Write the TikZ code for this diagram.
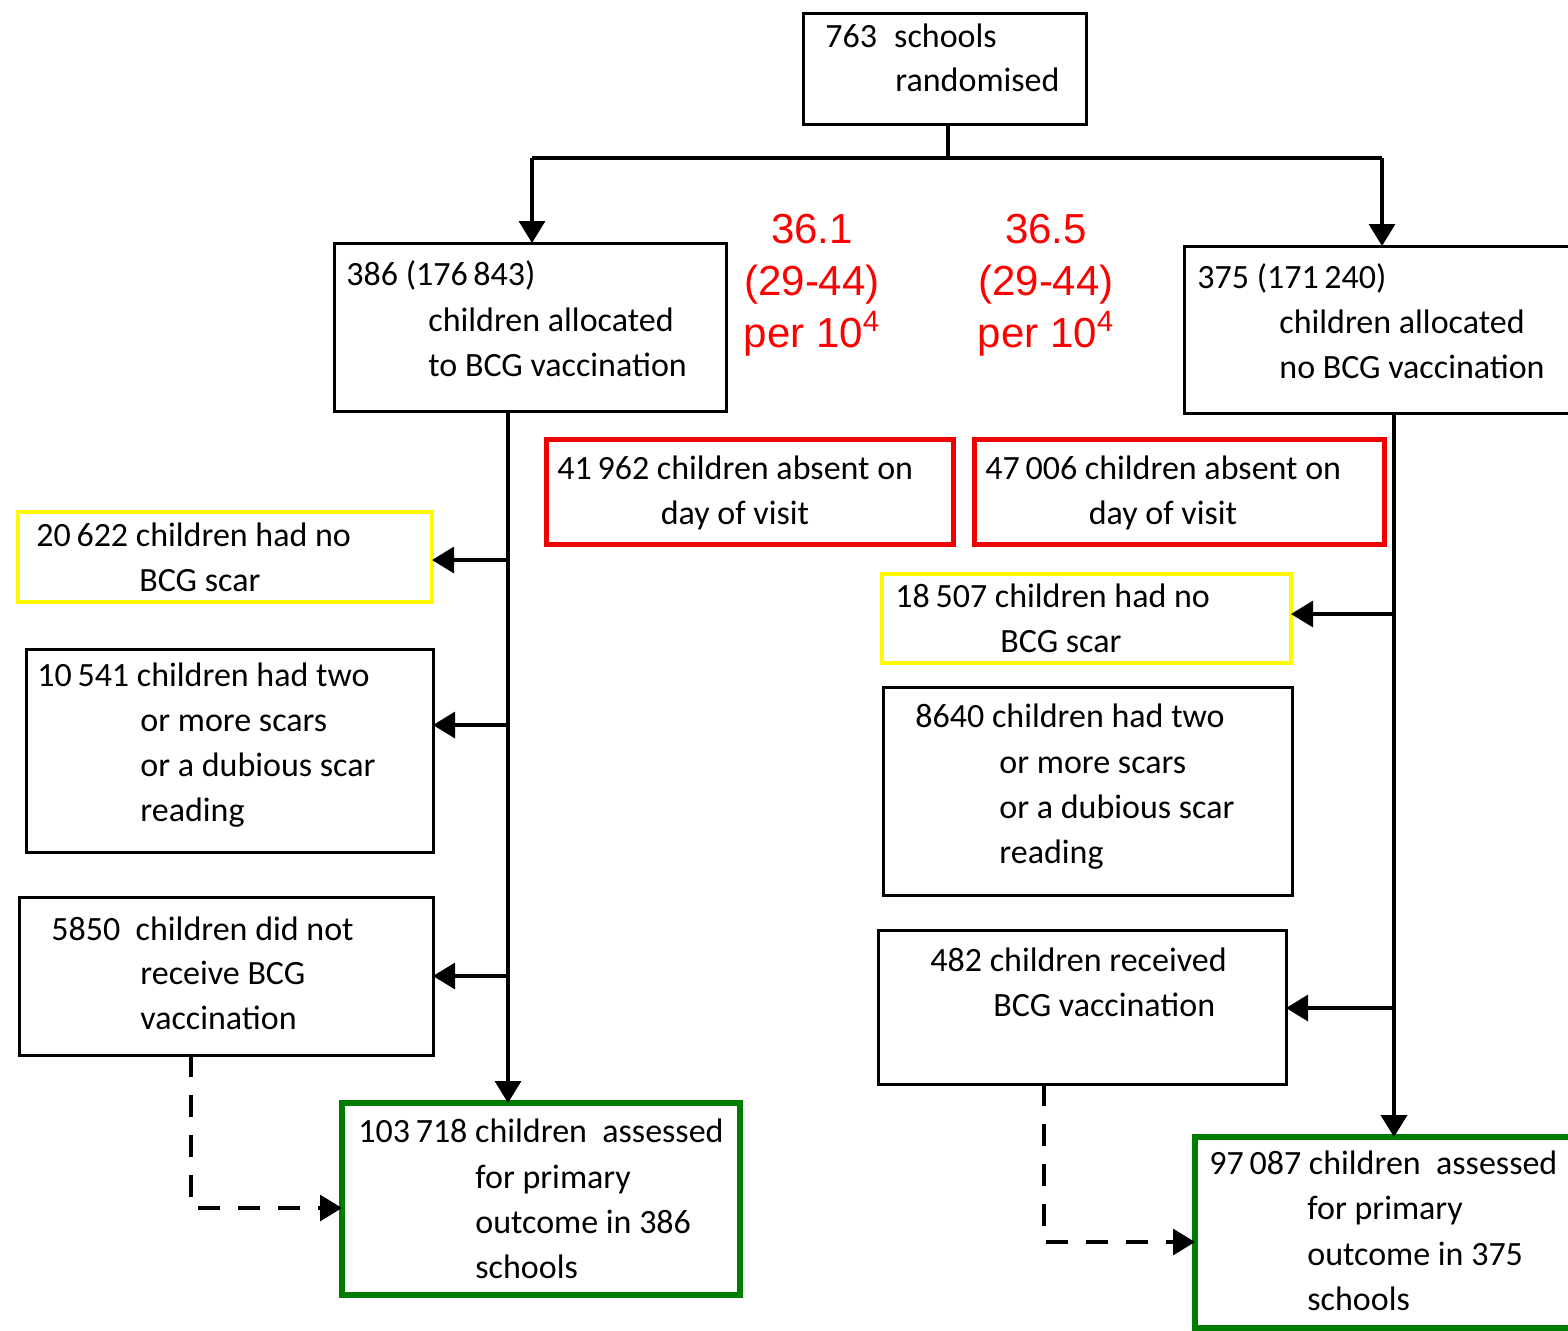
\documentclass[tikz,border=0pt]{standalone}
\usepackage{fontspec}
\setmainfont{Carlito}
\newfontfamily\redfont{Liberation Sans}
\usetikzlibrary{arrows.meta}
\definecolor{boxred}{RGB}{240,0,0}
\definecolor{boxyellow}{RGB}{255,250,0}
\definecolor{boxgreen}{RGB}{0,125,0}
\newcommand\mybox[6]{\node[boxbase,#6,minimum width={(#4-#2)*0.5pt},minimum height={(#5-#3)*0.5pt}] (#1) at (#2,#3) {};}
\begin{document}
\begin{tikzpicture}[x=0.5pt,y=-0.5pt,
  boxbase/.style={rectangle,anchor=north west,inner sep=0pt,outer sep=0pt},
  blk/.style={draw=black,line width=1.5pt},
  redbox/.style={draw=boxred,line width=2.5pt},
  yelbox/.style={draw=boxyellow,line width=2.3pt},
  grnbox/.style={draw=boxgreen,line width=3pt},
  txt/.style={anchor=base west,inner sep=0pt,font=\fontsize{17}{20}\selectfont},
  ctxt/.style={anchor=base,inner sep=0pt,font=\fontsize{17}{20}\selectfont},
  rtxt/.style={anchor=base,inner sep=0pt,text=red,font=\redfont\fontsize{21}{26}\selectfont},
  conn/.style={draw=black,line width=1.6pt},
  thick conn/.style={draw=black,line width=2.3pt},
  arr/.style={conn,-{Triangle[length=11pt,width=13pt]}},
  dshdarr/.style={conn,dash pattern=on 11pt off 9pt,-{Triangle[length=11pt,width=13pt]}}
]
\useasboundingbox (0,0) rectangle (1568,1330);
\clip (0,0) rectangle (1568,1330);
\fill[white] (0,0) rectangle (1568,1330);

% boxes
\mybox{T}{803}{13}{1086}{124}{blk}
\mybox{L1}{334}{243}{726}{411}{blk}
\mybox{R1}{1184}{246}{1600}{413}{blk}
\mybox{RA}{546}{439}{953}{544}{redbox}
\mybox{RB}{974}{439}{1384}{544}{redbox}
\mybox{YL}{18}{512}{432}{602}{yelbox}
\mybox{L2}{26}{649}{433}{852}{blk}
\mybox{L3}{19}{897}{433}{1055}{blk}
\mybox{GL}{342}{1103}{740}{1295}{grnbox}
\mybox{YR}{882}{574}{1291}{663}{yelbox}
\mybox{R2}{883}{687}{1292}{895}{blk}
\mybox{R3}{878}{930}{1286}{1084}{blk}
\mybox{GR}{1195}{1137}{1600}{1328}{grnbox}

% texts
\node[txt] (tT1) at (825,47) {763\; schools};
\node[txt] (tT2) at (895,91) {randomised};
\node[txt] (tL1a) at (346,285) {386 (176\,843)};
\node[txt] (tL1b) at (428,331) {children allocated};
\node[txt] (tL1c) at (428,376) {to BCG vaccination};
\node[txt] (tR1a) at (1197,288) {375 (171\,240)};
\node[txt] (tR1b) at (1279,333) {children allocated};
\node[txt] (tR1c) at (1279,378) {no BCG vaccination};
\node[rtxt] (rl1) at (812,243) {36.1};
\node[rtxt] (rl2) at (812,295) {(29-44)};
\node[rtxt] (rl3) at (812,347) {per 10\textsuperscript{4}};
\node[rtxt] (rr1) at (1046,243) {36.5};
\node[rtxt] (rr2) at (1046,295) {(29-44)};
\node[rtxt] (rr3) at (1046,347) {per 10\textsuperscript{4}};
\node[txt] (tRAa) at (557,479) {41\,962 children absent on};
\node[ctxt] (tRAb) at (735,524) {day of visit};
\node[txt] (tRBa) at (985,479) {47\,006 children absent on};
\node[ctxt] (tRBb) at (1163,524) {day of visit};
\node[txt] (tYLa) at (36,546) {20\,622 children had no};
\node[txt] (tYLb) at (139,591) {BCG scar};
\node[txt] (tL2a) at (37,686) {10\,541 children had two};
\node[txt] (tL2b) at (140,731) {or more scars};
\node[txt] (tL2c) at (140,776) {or a dubious scar};
\node[txt] (tL2d) at (140,821) {reading};
\node[txt] (tL3a) at (51,940) {5850\ \ children did not};
\node[txt] (tL3b) at (140,984) {receive BCG};
\node[txt] (tL3c) at (140,1029) {vaccination};
\node[txt] (tGLa) at (358,1142) {103\,718 children\ \ assessed};
\node[txt] (tGLb) at (475,1188) {for primary};
\node[txt] (tGLc) at (475,1233) {outcome in 386};
\node[txt] (tGLd) at (475,1278) {schools};
\node[txt] (tYRa) at (895,607) {18\,507 children had no};
\node[txt] (tYRb) at (1000,652) {BCG scar};
\node[txt] (tR2a) at (915,727) {8640 children had two};
\node[txt] (tR2b) at (999,773) {or more scars};
\node[txt] (tR2c) at (999,818) {or a dubious scar};
\node[txt] (tR2d) at (999,863) {reading};
\node[txt] (tR3a) at (930,971) {482 children received};
\node[txt] (tR3b) at (993,1016) {BCG vaccination};
\node[txt] (tGRa) at (1209,1174) {97\,087 children\ \ assessed};
\node[txt] (tGRb) at (1307,1219) {for primary};
\node[txt] (tGRc) at (1307,1265) {outcome in 375};
\node[txt] (tGRd) at (1307,1310) {schools};

% connectors
\coordinate (split) at (948,158);
\coordinate (jl) at (532,158);
\coordinate (jr) at (1382,158);
\draw[conn] (split |- T.south) -- (split);
\draw[thick conn] (jl) -- (jr);
\draw[arr] (jl) -- (jl |- L1.north);
\draw[arr] (jr) -- (jr |- R1.north);

\coordinate (lv) at (508,0);
\draw[arr] (lv |- L1.south) -- (lv |- GL.north);
\draw[arr] (lv |- 0,560) -- (YL.east |- 0,560);
\draw[arr] (lv |- 0,725) -- (L2.east |- 0,725);
\draw[arr] (lv |- 0,976) -- (L3.east |- 0,976);

\coordinate (rv) at (1394,0);
\draw[arr,line width=2pt] (rv |- R1.south) -- (rv |- GR.north);
\draw[arr] (rv |- 0,614) -- (YR.east |- 0,614);
\draw[arr] (rv |- 0,1008) -- (R3.east |- 0,1008);

\coordinate (dl) at (191,1208);
\draw[dshdarr] (dl |- L3.south) -- (dl) -- (dl -| GL.west);
\coordinate (dr) at (1044,1242);
\draw[dshdarr] (dr |- R3.south) -- (dr) -- (dr -| GR.west);
\end{tikzpicture}
\end{document}
